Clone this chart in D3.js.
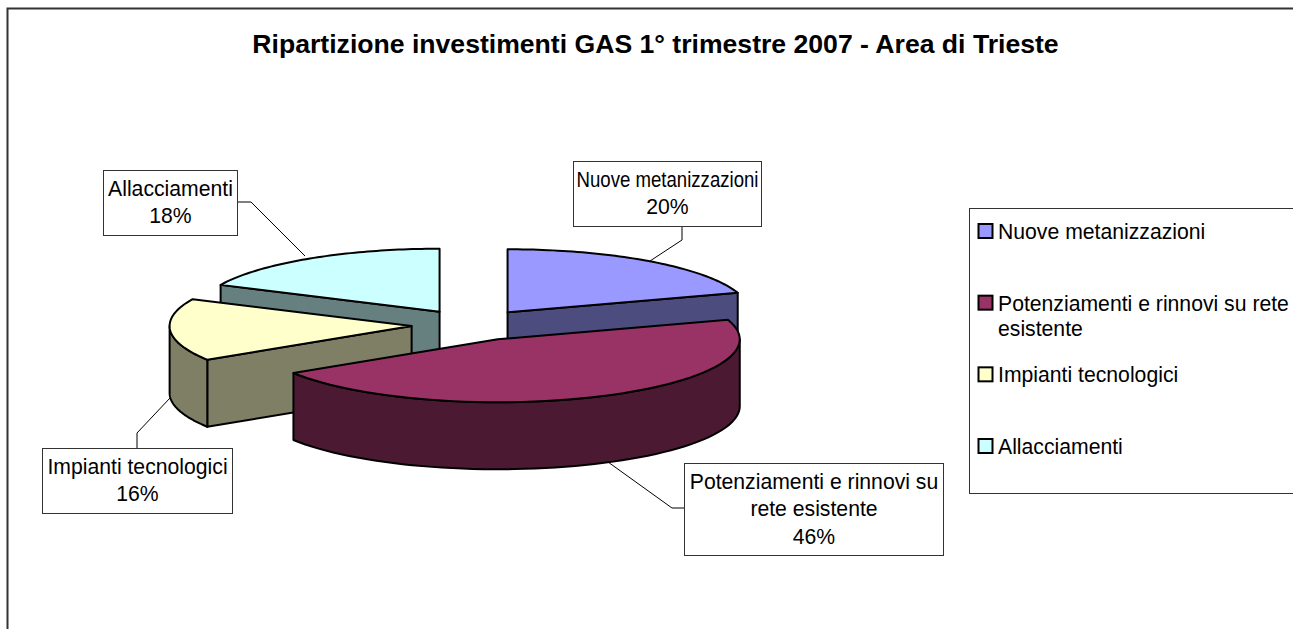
<!DOCTYPE html>
<html>
<head>
<meta charset="utf-8">
<script src="https://cdn.jsdelivr.net/npm/d3@7"></script>
<style>
  html, body { margin: 0; padding: 0; background: #fff; overflow: hidden; }
  text { font-family: "Liberation Sans", Arial, sans-serif; fill: #000; }
</style>
</head>
<body>
<div class="pie-chart"></div>
<script>
// data
const categories = ["Nuove metanizzazioni", "Potenziamenti e rinnovi su rete esistente", "Impianti tecnologici", "Allacciamenti"]
const shares = [20, 46, 16, 18]
const labelLines = [
    ["Nuove metanizzazioni"],
    ["Potenziamenti e rinnovi su", "rete esistente"],
    ["Impianti tecnologici"],
    ["Allacciamenti"]
]
const legendLines = [
    ["Nuove metanizzazioni"],
    ["Potenziamenti e rinnovi su rete", "esistente"],
    ["Impianti tecnologici"],
    ["Allacciamenti"]
]
const chartTitle = "Ripartizione investimenti GAS 1° trimestre 2007 - Area di Trieste"

// colours, top face and side face
const topColors = ["#9999FF", "#993366", "#FFFFCC", "#CCFFFF"]
const sideColors = ["#4C4C7F", "#4C1933", "#7F7F66", "#667F7F"]

// set size of the svg
const width = 1293
const height = 629
const cx = 472, cy = 325, rx = 242, ry = 63
const depth = 67
const explode = 0.25

const svg = d3.select(".pie-chart")
    .append("svg")
    .attr("width", width)
    .attr("height", height)
    .style("display", "block")

// chart frame, right and bottom edges fall outside the picture
svg.append("rect")
    .attr("x", 7.5).attr("y", 8.5)
    .attr("width", width + 20).attr("height", height + 20)
    .attr("fill", "#fff")
    .attr("stroke", "#333")
    .attr("stroke-width", 2)

svg.append("text")
    .attr("x", 655.5).attr("y", 53)
    .attr("text-anchor", "middle")
    .attr("font-weight", "bold")
    .attr("font-size", 26.6)
    .text(chartTitle)

// unit ellipse -> screen
const xScale = d3.scaleLinear().domain([-1, 1]).range([cx - rx, cx + rx])
const yScale = d3.scaleLinear().domain([-1, 1]).range([cy - ry, cy + ry])

const pie = d3.pie().sort(null)
const slices = pie(shares).map((d, i) => {
    const mid = (d.startAngle + d.endAngle) / 2
    return {
        ...d,
        index: i,
        ox: explode * Math.sin(mid),
        oy: -explode * Math.cos(mid)
    }
})

const line = d3.line()

// point on the rim of a slice, lifted by z pixels below the top face
const rim = (s, a, z = 0) => [
    xScale(s.ox + Math.sin(a)),
    yScale(s.oy - Math.cos(a)) + z
]
const apex = (s, z = 0) => [xScale(s.ox), yScale(s.oy) + z]
const arcPoints = (s, a0, a1, z = 0) =>
    d3.range(0, 61).map(k => rim(s, a0 + (a1 - a0) * k / 60, z))

function drawSlice(s) {
    const g = svg.append("g")
        .attr("stroke", "#000")
        .attr("stroke-width", 2)
        .attr("stroke-linejoin", "round")
    const a0 = s.startAngle, a1 = s.endAngle
    const side = sideColors[s.index]

    // radial face going back to the centre, only when it faces the viewer
    if (s.index === 0) {
        g.append("path").attr("fill", side)
            .attr("d", line([rim(s, a1), apex(s), apex(s, depth), rim(s, a1, depth)]) + "Z")
    }
    if (s.index === 2 || s.index === 3) {
        g.append("path").attr("fill", side)
            .attr("d", line([rim(s, a0), apex(s), apex(s, depth), rim(s, a0, depth)]) + "Z")
    }

    // outer wall, only the front half of the ellipse shows
    const w0 = Math.max(a0, Math.PI / 2)
    const w1 = Math.min(a1, Math.PI * 1.5)
    if (w1 > w0) {
        const top = arcPoints(s, w0, w1)
        const bottom = arcPoints(s, w1, w0, depth)
        g.append("path").attr("fill", side)
            .attr("d", line(top.concat(bottom)) + "Z")
    }

    // top face
    g.append("path").attr("fill", topColors[s.index])
        .attr("d", line([apex(s)].concat(arcPoints(s, a0, a1))) + "Z")
}

// back slices first
;[0, 3, 2, 1].forEach(i => drawSlice(slices[i]))

// data labels with leader lines
const labelBoxes = [
    { x: 573.5, y: 161.5, w: 188, h: 65, squeeze: 182, lead: [[682, 226], [682, 240], [650, 261]] },
    { x: 684.5, y: 463.5, w: 259, h: 92, lead: [[685, 508], [672, 508], [608, 462]] },
    { x: 42.5, y: 448.5, w: 190, h: 65, lead: [[137, 448], [137, 433], [170, 398]] },
    { x: 103.5, y: 170.5, w: 134, h: 65, lead: [[237, 202], [251, 202], [305, 256]] }
]

labelBoxes.forEach((box, i) => {
    svg.append("path")
        .attr("d", line(box.lead))
        .attr("fill", "none")
        .attr("stroke", "#000")
        .attr("stroke-width", 1)

    svg.append("rect")
        .attr("x", box.x).attr("y", box.y)
        .attr("width", box.w).attr("height", box.h)
        .attr("fill", "#fff")
        .attr("stroke", "#333")
        .attr("stroke-width", 1)

    const rows = labelLines[i].concat(shares[i] + "%")
    const texts = svg.append("g").selectAll("text")
        .data(rows)
        .join("text")
        .attr("x", box.x + box.w / 2)
        .attr("y", (d, k) => box.y + 25 + k * 27.5)
        .attr("text-anchor", "middle")
        .attr("font-size", 21.2)
        .text(d => d)

    // the name is drawn narrower than the font in this box
    if (box.squeeze) {
        texts.filter((d, k) => k === 0)
            .attr("textLength", box.squeeze)
            .attr("lengthAdjust", "spacingAndGlyphs")
    }
})

// legend, cut by the right edge as in the picture
svg.append("rect")
    .attr("x", 969.5).attr("y", 208.5)
    .attr("width", 400).attr("height", 285)
    .attr("fill", "#fff")
    .attr("stroke", "#333")
    .attr("stroke-width", 1)

const legendY = d3.scalePoint()
    .domain(categories)
    .range([232, 447])

categories.forEach((c, i) => {
    svg.append("rect")
        .attr("x", 978.5).attr("y", legendY(c) - 8)
        .attr("width", 14).attr("height", 14)
        .attr("fill", topColors[i])
        .attr("stroke", "#000")
        .attr("stroke-width", 2)

    svg.append("g").selectAll("text")
        .data(legendLines[i])
        .join("text")
        .attr("x", 998)
        .attr("y", (d, k) => legendY(c) + 7 + k * 25)
        .attr("font-size", 21.2)
        .text(d => d)
})
</script>
</body>
</html>
